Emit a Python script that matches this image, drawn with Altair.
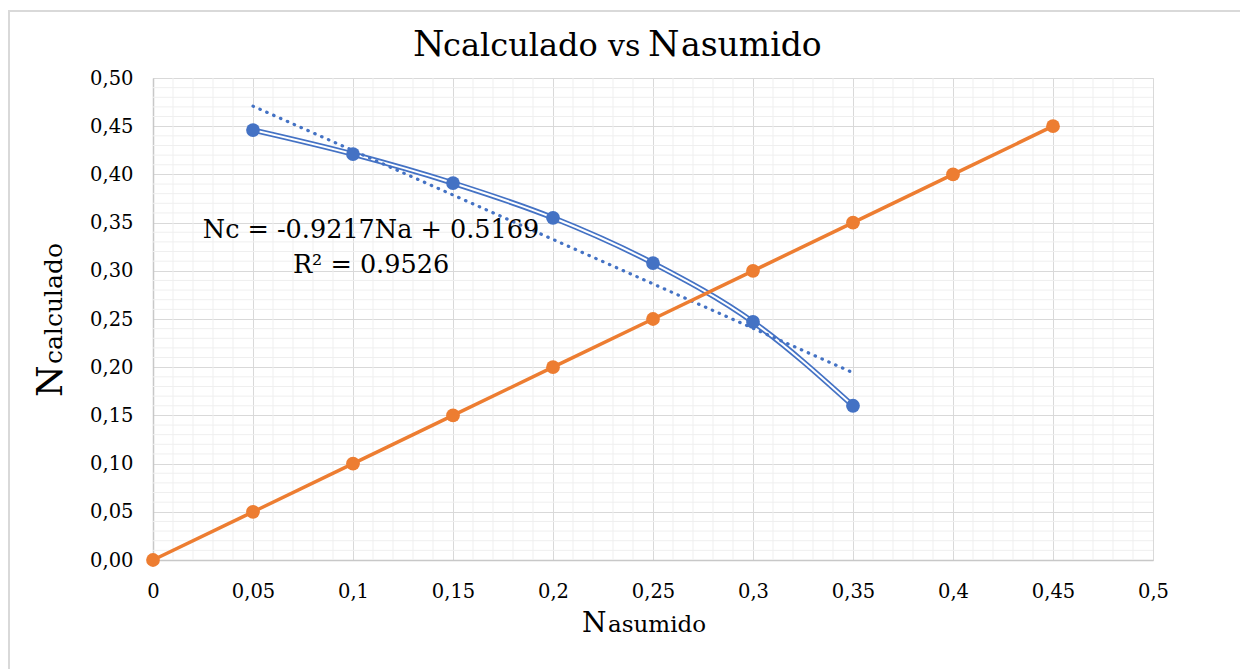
import altair as alt
import pandas as pd

# ---- data ----
x_calc = [0.05, 0.10, 0.15, 0.20, 0.25, 0.30, 0.35]
y_calc = [0.446, 0.421, 0.391, 0.355, 0.308, 0.247, 0.160]

x_asum = [0.00, 0.05, 0.10, 0.15, 0.20, 0.25, 0.30, 0.35, 0.40, 0.45]
y_asum = [0.00, 0.05, 0.10, 0.15, 0.20, 0.25, 0.30, 0.35, 0.40, 0.45]

x_trend = [0.05, 0.35]
y_trend = [0.4708, 0.1943]

x_major = [0, 0.05, 0.1, 0.15, 0.2, 0.25, 0.3, 0.35, 0.4, 0.45, 0.5]
y_major = [0, 0.05, 0.1, 0.15, 0.2, 0.25, 0.3, 0.35, 0.4, 0.45, 0.5]
minor_steps = [round(i * 0.01, 2) for i in range(51)]
x_minor = [v for v in minor_steps if round(v * 100) % 5 != 0]
y_minor = list(x_minor)

eq_text = "Nc = -0.9217Na + 0.5169"
r2_text = "R² = 0.9526"

W, H = 1000, 482
FONT = "DejaVu Serif"
BLUE = "#4472C4"
ORANGE = "#ED7D31"

xs = alt.Scale(domain=[0, 0.5], nice=False, zero=False)
ys = alt.Scale(domain=[0, 0.5], nice=False, zero=False)

xaxis = alt.Axis(values=x_major, grid=True, gridColor="#d9d9d9", gridWidth=1,
                 ticks=False, domainColor="#c8c8c8", domainWidth=1.5,
                 labelFont=FONT, labelFontSize=19.5, labelColor="black",
                 labelBaseline="alphabetic", labelPadding=37, labelFlush=False,
                 labelExpr="replace(format(datum.value, '.2~f'), '.', ',')",
                 title=None)
yaxis = alt.Axis(values=y_major, grid=True, gridColor="#d9d9d9", gridWidth=1,
                 ticks=False, domainColor="#c8c8c8", domainWidth=1.5,
                 labelFont=FONT, labelFontSize=19.5, labelColor="black",
                 labelPadding=20, labelFlush=False,
                 labelExpr="replace(format(datum.value, '.2f'), '.', ',')",
                 title=None)

def X(field="x"):
    return alt.X(f"{field}:Q", scale=xs, axis=xaxis)

def Y(field="y"):
    return alt.Y(f"{field}:Q", scale=ys, axis=yaxis)

one = pd.DataFrame({"k": [0]})
calc = pd.DataFrame({"x": x_calc, "y": y_calc})
asum = pd.DataFrame({"x": x_asum, "y": y_asum})
trend = pd.DataFrame({"x": x_trend, "y": y_trend})

frame = alt.Chart(one).mark_rect(fillOpacity=0, stroke="#d9d9d9", strokeWidth=2).encode(
    x=alt.value(-144), x2=alt.value(1200), y=alt.value(-67), y2=alt.value(800))

minor_x = alt.Chart(pd.DataFrame({"x": x_minor})).mark_rule(color="#efefef", strokeWidth=1).encode(
    x=X(), y=alt.value(0), y2=alt.value(H))
minor_y = alt.Chart(pd.DataFrame({"y": y_minor})).mark_rule(color="#efefef", strokeWidth=1).encode(
    y=Y(), x=alt.value(0), x2=alt.value(W))

blue_outer = alt.Chart(calc).mark_line(color=BLUE, strokeWidth=5.5, interpolate="monotone").encode(x=X(), y=Y())
blue_inner = alt.Chart(calc).mark_line(color="white", strokeWidth=2, interpolate="monotone").encode(x=X(), y=Y())
blue_pts = alt.Chart(calc).mark_point(filled=True, color=BLUE, size=190, opacity=1).encode(x=X(), y=Y())

trend_line = alt.Chart(trend).mark_line(color=BLUE, strokeWidth=3.2, strokeDash=[0.5, 7],
                                        strokeCap="round").encode(x=X(), y=Y())

orange_line = alt.Chart(asum).mark_line(color=ORANGE, strokeWidth=3.5).encode(x=X(), y=Y())
orange_pts = alt.Chart(asum).mark_point(filled=True, color=ORANGE, size=190, opacity=1).encode(x=X(), y=Y())

def txt(s, x, y, size, align="left", angle=0, baseline="alphabetic"):
    kw = dict(text=s, font=FONT, fontSize=size, color="black", align=align, baseline=baseline)
    if angle:
        kw["angle"] = angle
    return alt.Chart(one).mark_text(**kw).encode(x=alt.value(x), y=alt.value(y))

texts = [
    txt(eq_text, 218, 160, 25.5, align="center"),
    txt(r2_text, 218, 195, 25.5, align="center"),
    # title
    txt("N", 260, -22, 36),
    txt("calculado", 290, -22, 32),
    txt("vs", 455, -22, 30),
    txt("N", 495, -22, 36),
    txt("asumido", 528, -22, 33),
    # x axis title
    txt("N", 429, 554, 28),
    txt("asumido", 455, 554, 23),
    # y axis title
    txt("N", -91, 319, 36, angle=270),
    txt("calculado", -91, 286, 25, angle=270),
]

chart = alt.layer(frame, minor_x, minor_y, blue_outer, blue_inner, blue_pts, trend_line,
                  orange_line, orange_pts, *texts).properties(
    width=W, height=H,
    autosize=alt.AutoSizeParams(type="none"),
    padding={"left": 145, "top": 70, "right": 87, "bottom": 109},
).configure_view(stroke="#d9d9d9", strokeWidth=1.5).configure(background="white")

chart.save("out.html", embed_options={"renderer": "svg", "actions": False})
